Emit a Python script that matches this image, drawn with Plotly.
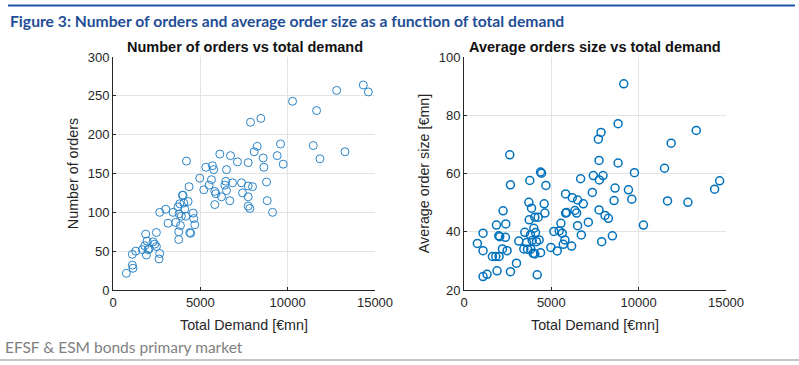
import plotly.graph_objects as go

# Left panel: total demand [€mn] vs number of orders
demand_left = [764, 1108, 1146, 1108, 1300, 1681, 1873, 1949, 1815, 1911, 2006, 2064, 2293, 2389,
               2484, 2484, 2675, 2637, 2675, 3019, 3153, 3440, 3592, 3726, 3783, 3821, 3764, 3764,
               3860, 3917, 3974, 4013, 4051, 4108, 4166, 4204, 4299, 4357, 4395, 4452, 4586, 4624,
               4682, 4968, 5197, 5312, 5503, 5637, 5694, 5770, 5828, 5828, 5885, 6115, 6210, 6401,
               6459, 6497, 6497, 6688, 6726, 6841, 7127, 7357, 7414, 7739, 7739, 7739, 7739, 7834,
               7873, 7987, 8083, 8255, 8465, 8599, 8637, 8790, 8828, 9134, 9401, 9592, 9745, 10280,
               11465, 11656, 11847, 12803, 13280, 14331, 14618]
orders = [21.5, 32, 28, 46, 50, 52, 72, 63, 57, 45, 52, 53, 62, 59,
          74, 56, 47, 40, 100, 104, 86, 100, 87, 107, 98, 111, 75, 65,
          83, 95, 122, 122, 112, 104, 95, 166, 114, 133, 74, 73, 99, 92,
          84, 144, 129, 158, 135, 142, 160, 155, 127, 110, 124, 175, 120, 135,
          140, 155, 128, 115, 173, 138, 165, 138, 125, 164, 134, 120, 108, 105,
          216, 133, 178, 185, 221, 170, 158, 139, 115, 100, 173, 188, 162, 243,
          186, 231, 169, 257, 178, 264, 255]

# Right panel: total demand [€mn] vs average order size [€mn]
demand_right = [765, 1090, 1090, 1090, 1320, 1626, 1818, 2009, 1856, 1894, 1990, 2047, 2200, 2238,
                2372, 2391, 2468, 2621, 2659, 2659, 3004, 3138, 3425, 3482, 3578, 3635, 3712, 3731,
                3769, 3807, 3826, 3865, 3903, 3960, 3999, 4056, 4056, 4094, 4151, 4190, 4247, 4304,
                4381, 4438, 4381, 4591, 4629, 4687, 4974, 5146, 5337, 5452, 5548, 5624, 5682, 5777,
                5816, 5816, 5873, 6160, 6198, 6351, 6447, 6505, 6505, 6677, 6715, 6830, 7117, 7347,
                7404, 7691, 7730, 7730, 7749, 7845, 7883, 7959, 8074, 8266, 8495, 8591, 8649, 8821,
                8821, 9147, 9414, 9605, 9758, 10274, 11480, 11652, 11862, 12819, 13297, 14349, 14636]
avg_size = [36.0, 39.5, 33.5, 24.6, 25.4, 31.5, 31.5, 31.5, 42.3, 26.6, 38.6, 38.3, 34.1, 47.2,
            38.1, 42.7, 33.5, 66.4, 26.3, 56.1, 29.2, 36.8, 34.1, 39.8, 36.3, 34.0, 50.1, 44.1,
            57.6, 38.9, 34.0, 48.1, 37.0, 32.6, 41.2, 45.0, 32.4, 39.7, 36.6, 25.2, 45.0, 37.2,
            60.5, 60.1, 32.8, 49.6, 46.4, 55.9, 34.6, 40.1, 33.4, 40.3, 42.9, 39.5, 35.7, 37.2,
            53.0, 46.4, 46.6, 35.1, 51.7, 47.3, 46.4, 42.1, 50.9, 58.2, 38.9, 49.6, 43.3, 53.5,
            59.3, 71.8, 64.5, 47.5, 57.8, 74.1, 36.6, 59.3, 45.6, 44.6, 38.6, 50.7, 55.0, 77.1,
            63.6, 90.8, 54.4, 51.2, 60.3, 42.3, 61.8, 50.6, 70.4, 50.1, 74.8, 54.6, 57.5]

x_ticks = [0, 5000, 10000, 15000]
left_y_ticks = [0, 50, 100, 150, 200, 250, 300]
right_y_ticks = [20, 40, 60, 80, 100]

MARKER_COLOR = "#0072BD"
AXIS_COLOR = "#262626"
GRID_COLOR = "#e3e3e3"
TICK_FONT = dict(family="Liberation Sans, Arial", size=13, color="#262626")

fig = go.Figure()
fig.add_trace(go.Scatter(
    x=demand_left, y=orders, mode="markers", xaxis="x", yaxis="y",
    marker=dict(symbol="circle-open", size=8, color="#2a84c8", line=dict(width=1, color="#2a84c8")),
    showlegend=False, hoverinfo="x+y"))
fig.add_trace(go.Scatter(
    x=demand_right, y=avg_size, mode="markers", xaxis="x2", yaxis="y2",
    marker=dict(symbol="circle-open", size=8, color=MARKER_COLOR, line=dict(width=1.5, color=MARKER_COLOR)),
    showlegend=False, hoverinfo="x+y"))

common_axis = dict(
    showline=True, linecolor=AXIS_COLOR, linewidth=1,
    showgrid=True, gridcolor=GRID_COLOR, gridwidth=1,
    ticks="inside", ticklen=3, tickcolor=AXIS_COLOR,
    tickfont=TICK_FONT, zeroline=False, mirror=False, automargin=False,
)
title_font = dict(family="Liberation Sans, Arial", size=14.3, color="#262626")

fig.update_layout(
    width=799, height=365, autosize=False,
    margin=dict(l=0, r=0, t=0, b=0, pad=0),
    paper_bgcolor="white", plot_bgcolor="white",
    xaxis=dict(domain=[113 / 799, 375 / 799], range=[0, 15000], tickvals=x_ticks,
               ticktext=[str(v) for v in x_ticks], anchor="y",
               title=dict(text="Total Demand [€mn]", font=title_font, standoff=11), **common_axis),
    yaxis=dict(domain=[1 - 290 / 365, 1 - 57 / 365], range=[0, 300], tickvals=left_y_ticks,
               anchor="x", title=dict(text="Number of orders", font=title_font, standoff=5), **common_axis),
    xaxis2=dict(domain=[464 / 799, 726 / 799], range=[0, 15000], tickvals=x_ticks,
                ticktext=[str(v) for v in x_ticks], anchor="y2",
                title=dict(text="Total Demand [€mn]", font=title_font, standoff=11), **common_axis),
    yaxis2=dict(domain=[1 - 290 / 365, 1 - 57 / 365], range=[20, 100], tickvals=right_y_ticks,
                anchor="x2", title=dict(text="Average order size [€mn]", font=title_font, standoff=5), **common_axis),
    shapes=[
        dict(type="line", xref="paper", yref="paper", x0=8 / 799, x1=795 / 799,
             y0=1 - 5.5 / 365, y1=1 - 5.5 / 365, line=dict(color="#1f55a6", width=2)),
        dict(type="line", xref="paper", yref="paper", x0=0, x1=1,
             y0=1 - 360 / 365, y1=1 - 360 / 365, line=dict(color="#8c8c8c", width=1.2)),
    ],
    annotations=[
        dict(text="<b>Figure 3: Number of orders and average order size as a function of total demand</b>",
             xref="paper", yref="paper", x=8 / 799, y=1 - 21 / 365, xanchor="left", yanchor="middle",
             showarrow=False, font=dict(family="Lato, Open Sans", size=15.7, color="#1f4e96")),
        dict(text="<b>Number of orders vs total demand</b>",
             xref="paper", yref="paper", x=244.5 / 799, y=1 - 47 / 365, xanchor="center", yanchor="middle",
             showarrow=False, font=dict(family="Liberation Sans, Arial", size=14.5, color="#111111")),
        dict(text="<b>Average orders size vs total demand</b>",
             xref="paper", yref="paper", x=595 / 799, y=1 - 47 / 365, xanchor="center", yanchor="middle",
             showarrow=False, font=dict(family="Liberation Sans, Arial", size=14.5, color="#111111")),
        dict(text="EFSF &amp; ESM bonds primary market",
             xref="paper", yref="paper", x=3 / 799, y=1 - 347 / 365, xanchor="left", yanchor="middle",
             showarrow=False, font=dict(family="Lato, Open Sans", size=15.5, color="#7f7f7f")),
    ],
)

fig.write_html(
    "out.html",
    config={"displayModeBar": False},
    post_script="document.body.style.margin='0';document.body.style.overflow='hidden';",
)
